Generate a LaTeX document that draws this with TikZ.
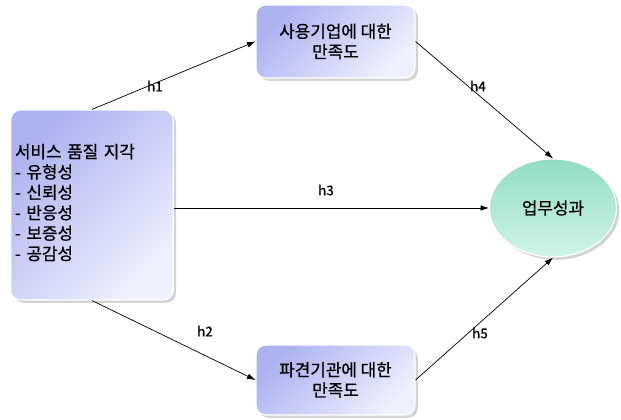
\documentclass[tikz,border=0pt]{standalone}
\usepackage{fontspec}
\setmainfont{Noto Sans CJK KR}[FakeBold=0.8]
\usetikzlibrary{shadows,arrows.meta,shapes.geometric}
\begin{document}
\begin{tikzpicture}[x=0.025cm,y=-0.025cm]
\definecolor{bx1}{RGB}{172,178,240}
\definecolor{bx2}{RGB}{238,240,253}
\definecolor{el1}{RGB}{146,220,194}
\definecolor{el2}{RGB}{208,245,230}
\tikzset{
  factor/.style={draw=white,line width=0.8pt,rounded corners=7pt,
    left color=bx1,right color=bx2,shading angle=45,
    drop shadow={shadow xshift=2pt,shadow yshift=-2pt,opacity=0.35},
    font=\fontsize{12}{14.5}\selectfont,align=center},
  outcome/.style={ellipse,draw=white,line width=0.8pt,
    top color=el1,bottom color=el2,
    drop shadow={shadow xshift=2pt,shadow yshift=-2pt,opacity=0.35},
    font=\fontsize{12}{14.5}\selectfont},
  hyp/.style={-{Latex[length=6pt,width=4pt]},line width=0.5pt},
  hlabel/.style={font=\fontsize{9.5}{11}\selectfont}
}
\useasboundingbox (0,0) rectangle (621,420);

\node[factor,minimum width=160*0.025cm,minimum height=190*0.025cm,align=left,
  text width=154*0.025cm,inner xsep=3pt] (svc) at (92,205)
  {\\[-8pt]서비스 품질 지각\\- 유형성\\- 신뢰성\\- 반응성\\- 보증성\\- 공감성};
\node[factor,minimum width=159*0.025cm,minimum height=73*0.025cm] (user) at (335.5,41.5)
  {사용기업에 대한\\만족도};
\node[factor,minimum width=159*0.025cm,minimum height=70*0.025cm] (agency) at (335.5,380)
  {파견기관에 대한\\만족도};
\node[outcome,minimum width=127*0.025cm,minimum height=98*0.025cm,inner sep=0pt] (perf) at (553,208)
  {업무성과};

\draw[hyp] (svc.north) -- (user.west);
\draw[hyp] (svc.south) -- (agency.west);
\draw[hyp] (svc.east |- perf.west) -- (perf.west);
\draw[hyp] (user.east) -- (perf.north);
\draw[hyp] (agency.east) -- (perf.south);

\node[hlabel] (h1) at (155,86) {h1};
\node[hlabel] (h2) at (205,331) {h2};
\node[hlabel] (h3) at (326,190) {h3};
\node[hlabel] (h4) at (478,86) {h4};
\node[hlabel] (h5) at (480,333) {h5};
\end{tikzpicture}
\end{document}
